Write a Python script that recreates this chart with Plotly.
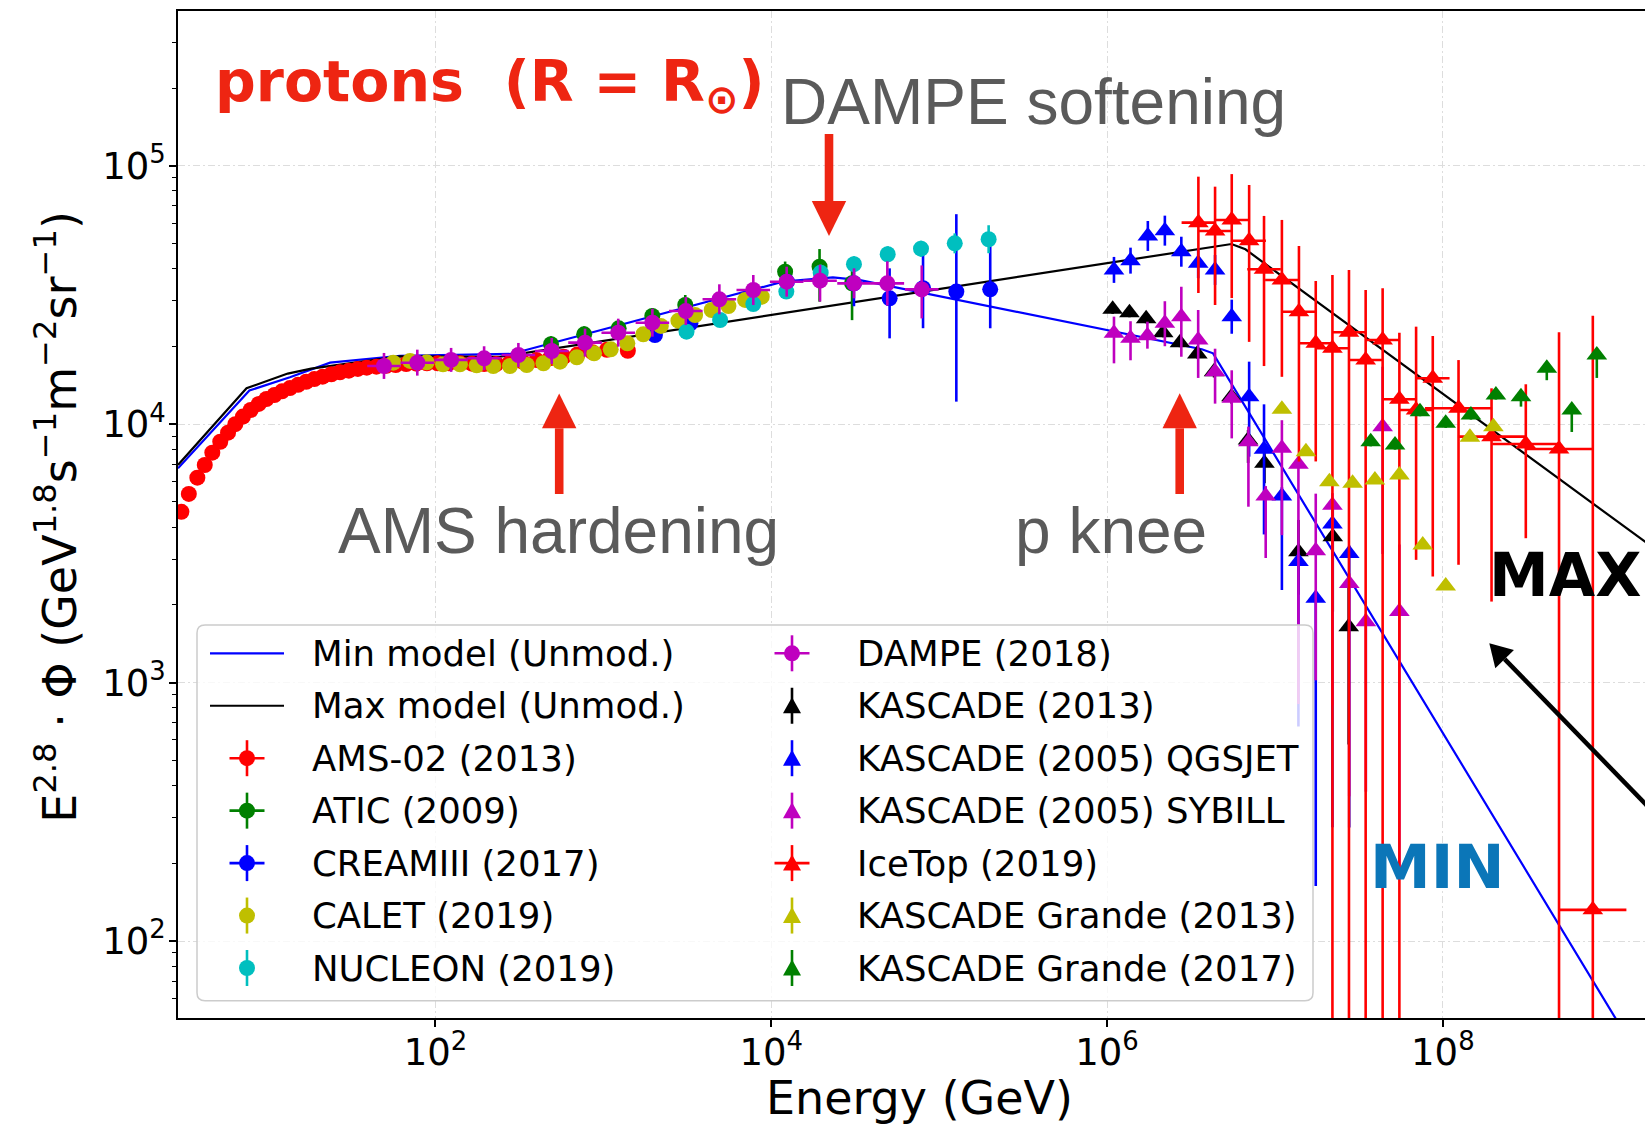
import plotly.graph_objects as go

# ---------------- data (energy in GeV, E^2.8 * flux) ----------------
min_model_E = [2.93, 7.8, 13.6, 23.6, 61.5, 282, 11750, 23300, 33800, 3.67e6, 4.28e6, 1.07e9, 2.0e9]
min_model_F = [6750, 13500, 15200, 17300, 18400, 18700, 35600, 37000, 36100, 19500, 18800, 50.2, 25.6]

max_model_E = [2.93, 7.5, 13.2, 18.2, 61.5, 243, 5.51e6, 6.67e6, 1.6e9, 3.0e9]
max_model_F = [6950, 13770, 15700, 16400, 18300, 18240, 49800, 47500, 3510, 2600]

ams_E = [3.07, 3.40, 3.82, 4.23, 4.69, 5.23, 5.82, 6.43, 7.14, 7.94, 8.87, 9.85, 11.0, 12.2, 13.6,
         15.2, 17.0, 19.0, 21.3, 24.0, 27.0, 30.5, 34.5, 39.0, 44.5, 51.0, 58.0, 67.0, 77.0, 89.0,
         103, 120, 140, 165, 195, 230, 275, 330, 400, 480, 580, 700, 860, 1050, 1400]
ams_F = [4580, 5370, 6210, 6950, 7760, 8550, 9270, 10000, 10700, 11350, 11980, 12520, 12970, 13400, 13800,
         14200, 14600, 14950, 15270, 15600, 15890, 16110, 16360, 16550, 16690, 16830, 16940, 17100, 17150, 17200,
         17200, 17200, 17200, 17150, 17100, 17100, 17200, 17460, 17700, 17990, 18240, 18620, 19000, 19400, 19240]

atic_E = [488, 769, 1234, 1958, 3076, 12100, 19400, 30300]
atic_F = [20400, 22280, 23500, 26220, 28930, 38900, 40700, 35100]
atic_lo = [0.069, 0.069, 0.069, 0.069, 0.085, 0.090, 0.268, 0.28]
atic_hi = [0.074, 0.074, 0.074, 0.074, 0.093, 0.095, 0.17, 0.123]

cream_E = [2030, 3300, 12400, 31100, 50700, 80200, 126600, 201500]
cream_F = [22130, 24580, 35600, 35100, 30700, 33600, 32600, 33250]
cream_lo = [0.044, 0.044, 0.069, 0.185, 0.300, 0.300, 0.625, 0.293]
cream_hi = [0.046, 0.046, 0.074, 0.123, 0.306, 0.448, 0.993, 0.467]

calet_E = [56.1, 70.6, 88.7, 111, 140, 176, 221, 278, 350, 440, 552, 695, 881, 1107, 1390, 1730,
           2200, 2800, 3520, 4420, 5560, 6990, 8780]
calet_F = [17300, 17570, 17360, 17060, 17060, 16900, 16800, 16800, 16950, 17210, 17460, 18160, 18800,
           19480, 20560, 22280, 24000, 25150, 26460, 27670, 28670, 30270, 31140]
calet_rel = [0.04, 0.04, 0.04, 0.04, 0.04, 0.04, 0.04, 0.04, 0.04, 0.04, 0.04, 0.04, 0.04, 0.04, 0.04, 0.04,
             0.05, 0.05, 0.05, 0.05, 0.06, 0.06, 0.06]

nucleon_E = [3130, 4960, 7820, 12300, 19700, 31100, 49400, 78000, 123900, 197200]
nucleon_F = [22800, 25300, 29170, 32600, 38580, 41600, 45450, 47760, 50100, 51960]
nucleon_lo = [0.044, 0.044, 0.044, 0.044, 0.069, 0.069, 0.069, 0.069, 0.085, 0.117]
nucleon_hi = [0.046, 0.046, 0.046, 0.046, 0.074, 0.074, 0.074, 0.074, 0.093, 0.133]

dampe_E = [49.4, 78.0, 124, 195, 312, 493, 778, 1227, 1960, 3100, 4910, 7820, 12360, 19530, 31130, 49150, 78800]
dampe_F = [16800, 17300, 17730, 17990, 18530, 19200, 20680, 22600, 24700, 27400, 30430, 33060, 35600,
           35920, 35080, 35080, 33240]
dampe_lo = [0.109, 0.109, 0.101, 0.101, 0.101, 0.109, 0.117, 0.117, 0.117, 0.117, 0.125, 0.125, 0.125,
            0.170, 0.125, 0.180, 0.228]
dampe_hi = [0.123, 0.123, 0.113, 0.113, 0.113, 0.123, 0.133, 0.133, 0.133, 0.133, 0.143, 0.143, 0.143,
            0.153, 0.143, 0.217, 0.238]
dampe_dlogE = [0.1] * 17  # half bin width in decades

kas13_E = [1.08e6, 1.36e6, 1.71e6, 2.16e6, 2.72e6, 3.45e6, 4.34e6, 5.51e6, 6.92e6, 8.66e6, 1.38e7, 2.21e7, 2.75e7]
kas13_F = [27850, 27010, 25590, 22590, 20680, 18700, 15960, 12780, 8690, 7060, 3210, 3670, 1646]
kas13_lo = [0.04, 0.04, 0.04, 0.04, 0.04, 0.04, 0.05, 0.06, 0.185, 0.163, 0.318, 0.487, 0.650]
kas13_hi = [0.045, 0.045, 0.045, 0.045, 0.045, 0.045, 0.05, 0.06, 0.093, 0.113, 0.327, 0.34, 0.561]

kasq_E = [1.10e6, 1.38e6, 1.75e6, 2.21e6, 2.77e6, 3.49e6, 4.40e6, 5.53e6, 7.02e6, 8.61e6, 1.10e7, 1.38e7,
          1.75e7, 2.20e7, 2.77e7]
kasq_F = [39530, 42930, 53500, 56100, 46500, 41950, 39530, 26060, 12780, 8000, 5270, 2940, 2120, 4110, 3160]
kasq_lo = [0.109, 0.109, 0.125, 0.125, 0.125, 0.125, 0.125, 0.141, 0.414, 0.532, 0.567, 0.770, 0.923, 0.933, 0.913]
kasq_hi = [0.123, 0.123, 0.143, 0.143, 0.143, 0.143, 0.143, 0.164, 0.366, 0.492, 0.083, 0.093, 0.045, 0.074, 0.074]

kass_E = [1.10e6, 1.38e6, 1.74e6, 2.21e6, 2.77e6, 3.49e6, 4.40e6, 5.53e6, 6.95e6, 8.81e6, 1.10e7, 1.38e7,
          1.75e7, 2.20e7, 2.77e7, 3.48e7, 4.38e7, 5.51e7]
kass_F = [22480, 21500, 22000, 24580, 26060, 21180, 15970, 12590, 8560, 5270, 8070, 7000, 3240, 4860, 2420,
          1720, 9770, 1883]
kass_lo = [0.235, 0.178, 0.109, 0.185, 0.300, 0.287, 0.248, 0.300, 0.440, 0.424, 0.539, 0.882, 0.685, 0.832,
           0.850, 0.780, 0.678, 0.901]
kass_hi = [0.160, 0.164, 0.133, 0.217, 0.306, 0.306, 0.227, 0.284, 0.143, 0.093, 0.284, 0.055, 0.662, 0.113,
           0.093, 0.074, 0.708, 0.816]

icetop_E = [3.50e6, 4.40e6, 5.53e6, 7.02e6, 8.61e6, 1.10e7, 1.39e7, 1.75e7, 2.20e7, 2.76e7, 3.47e7, 4.38e7,
            5.51e7, 6.93e7, 8.71e7, 1.24e8, 1.95e8, 3.12e8, 4.92e8, 7.82e8]
icetop_F = [60260, 55940, 61660, 51290, 39780, 36140, 27250, 20560, 19670, 22690, 17720, 21180, 12490, 11350,
            15050, 11520, 8950, 8380, 8020, 132]
icetop_lo = [0.466, 0.483, 0.501, 0.594, 0.578, 0.578, 0.737, 0.651, 0.999, 0.999, 0.999, 0.999, 0.999, 0.737,
             0.829, 0.752, 0.770, 0.568, 0.999, 0.999]
icetop_hi = [0.506, 0.484, 0.506, 0.643, 0.608, 0.708, 0.796, 0.742, 0.921, 0.742, 0.866, 0.585, 0.810, 1.101,
             0.458, 0.537, 0.538, 0.703, 1.828, 198]
icetop_dlogE = [0.1, 0.1, 0.1, 0.1, 0.1, 0.1, 0.1, 0.1, 0.1, 0.1, 0.1, 0.1, 0.1, 0.1, 0.1,
                0.2, 0.2, 0.2, 0.2, 0.2]

kg13_E = [1.10e7, 1.53e7, 2.11e7, 2.90e7, 3.94e7, 5.51e7, 7.59e7, 1.04e8, 1.45e8, 2.00e8]
kg13_F = [11420, 7830, 5990, 5905, 6080, 6360, 3410, 2365, 8900, 9770]

kg17_E = [3.72e7, 5.19e7, 7.31e7, 1.04e8, 1.47e8, 2.07e8, 2.92e8, 4.16e8, 5.86e8, 8.26e8]
kg17_F = [8550, 8300, 11180, 10080, 10850, 12970, 12780, 16460, 11350, 18530]
kg17_lo = [0.04, 0.04, 0.04, 0.04, 0.04, 0.04, 0.085, 0.101, 0.178, 0.185]
kg17_hi = [0.04, 0.04, 0.04, 0.04, 0.04, 0.04, 0.04, 0.04, 0.04, 0.04]

x_tick_vals = [1e2, 1e4, 1e6, 1e8]
x_tick_text = ['10<sup>2</sup>', '10<sup>4</sup>', '10<sup>6</sup>', '10<sup>8</sup>']
y_tick_vals = [1e2, 1e3, 1e4, 1e5]
y_tick_text = ['10<sup>2</sup>', '10<sup>3</sup>', '10<sup>4</sup>', '10<sup>5</sup>']

# ---------------- styling ----------------
RED, GRN, BLU, YEL, CYA, MAG, BLK = '#ff0000', '#008000', '#0000ff', '#bfbf00', '#00bfbf', '#bf00bf', '#000000'
ARROW_RED = '#ee2512'
GRAY_TXT = '#5a5a5a'
FONT = 'DejaVu Sans'
ELW = 2.6

# plot area in page pixels
L, T, W, H = 178, 11, 1467, 1007


def px(x):
    return (x - L) / W


def py(y):
    return (T + H - y) / H


def rel_err(vals, lo, hi, color):
    return dict(type='data', symmetric=False,
                array=[v * h for v, h in zip(vals, hi)],
                arrayminus=[v * l for v, l in zip(vals, lo)],
                color=color, thickness=ELW, width=0)


def dec_err(vals, dec, color):
    return dict(type='data', symmetric=False,
                array=[v * (10 ** d - 1) for v, d in zip(vals, dec)],
                arrayminus=[v * (1 - 10 ** (-d)) for v, d in zip(vals, dec)],
                color=color, thickness=ELW, width=0)


fig = go.Figure()

# legend description: (column, name, kind, color, has_xerr, has_yerr)
legend_items = []


def add_line(E, F, color, name, col):
    fig.add_trace(go.Scatter(x=E, y=F, mode='lines', name=name, showlegend=False,
                             line=dict(color=color, width=2.2)))
    legend_items.append((col, name, 'line', color, False, False))


def add_pts(E, F, color, symbol, name, col, ey=None, ex=None, lx=False, ly=True):
    fig.add_trace(go.Scatter(
        x=E, y=F, mode='markers', name=name, showlegend=False,
        marker=dict(color=color, symbol=symbol, size=16 if symbol == 'circle' else 18, line=dict(width=0)),
        error_y=ey, error_x=ex))
    legend_items.append((col, name, 'circle' if symbol == 'circle' else 'tri', color, lx, ly))


add_line(min_model_E, min_model_F, BLU, 'Min model (Unmod.)', 0)
add_line(max_model_E, max_model_F, BLK, 'Max model (Unmod.)', 0)
add_pts(ams_E, ams_F, RED, 'circle', 'AMS-02 (2013)', 0, lx=True)
add_pts(atic_E, atic_F, GRN, 'circle', 'ATIC (2009)', 0, ey=rel_err(atic_F, atic_lo, atic_hi, GRN), lx=True)
add_pts(cream_E, cream_F, BLU, 'circle', 'CREAMIII (2017)', 0, ey=rel_err(cream_F, cream_lo, cream_hi, BLU), lx=True)
add_pts(calet_E, calet_F, YEL, 'circle', 'CALET (2019)', 0, ey=rel_err(calet_F, calet_rel, calet_rel, YEL))
add_pts(nucleon_E, nucleon_F, CYA, 'circle', 'NUCLEON (2019)', 0,
        ey=rel_err(nucleon_F, nucleon_lo, nucleon_hi, CYA))
add_pts(dampe_E, dampe_F, MAG, 'circle', 'DAMPE (2018)', 1,
        ey=rel_err(dampe_F, dampe_lo, dampe_hi, MAG), ex=dec_err(dampe_E, dampe_dlogE, MAG), lx=True)
add_pts(kas13_E, kas13_F, BLK, 'triangle-up', 'KASCADE (2013)', 1, ey=rel_err(kas13_F, kas13_lo, kas13_hi, BLK))
add_pts(kasq_E, kasq_F, BLU, 'triangle-up', 'KASCADE (2005) QGSJET', 1, ey=rel_err(kasq_F, kasq_lo, kasq_hi, BLU))
add_pts(kass_E, kass_F, MAG, 'triangle-up', 'KASCADE (2005) SYBILL', 1, ey=rel_err(kass_F, kass_lo, kass_hi, MAG))
add_pts(icetop_E, icetop_F, RED, 'triangle-up', 'IceTop (2019)', 1,
        ey=rel_err(icetop_F, icetop_lo, icetop_hi, RED), ex=dec_err(icetop_E, icetop_dlogE, RED), lx=True)
add_pts(kg13_E, kg13_F, YEL, 'triangle-up', 'KASCADE Grande (2013)', 1)
add_pts(kg17_E, kg17_F, GRN, 'triangle-up', 'KASCADE Grande (2017)', 1, ey=rel_err(kg17_F, kg17_lo, kg17_hi, GRN))

shapes = []
annotations = []

# ---- legend box (drawn manually to mimic the two-column frame) ----
fx0, fx1, fy0, fy1 = px(197), px(1313), py(1000.7), py(625)
rx, ry = 8 / W, 8 / H
frame_path = (f"M{fx0+rx},{fy1} L{fx1-rx},{fy1} Q{fx1},{fy1} {fx1},{fy1-ry} L{fx1},{fy0+ry} "
              f"Q{fx1},{fy0} {fx1-rx},{fy0} L{fx0+rx},{fy0} Q{fx0},{fy0} {fx0},{fy0+ry} "
              f"L{fx0},{fy1-ry} Q{fx0},{fy1} {fx0+rx},{fy1} Z")
shapes.append(dict(type='path', path=frame_path, xref='paper', yref='paper', layer='above',
                   fillcolor='rgba(255,255,255,0.8)', line=dict(color='#cccccc', width=1.5)))

col_cx = [247, 792]
col_tx = [310, 855]
row0, drow = 653.3, 52.45
rows = [0, 0]
for col, name, kind, color, lx, ly in legend_items:
    r = rows[col]
    rows[col] += 1
    cx, cy = col_cx[col], row0 + drow * r
    if kind == 'line':
        shapes.append(dict(type='line', xref='paper', yref='paper', layer='above',
                           x0=px(cx - 37), x1=px(cx + 37), y0=py(cy), y1=py(cy),
                           line=dict(color=color, width=2.2)))
    else:
        if ly:
            shapes.append(dict(type='line', xref='paper', yref='paper', layer='above',
                               x0=px(cx), x1=px(cx), y0=py(cy - 18), y1=py(cy + 18),
                               line=dict(color=color, width=ELW)))
        if lx:
            shapes.append(dict(type='line', xref='paper', yref='paper', layer='above',
                               x0=px(cx - 17.5), x1=px(cx + 17.5), y0=py(cy), y1=py(cy),
                               line=dict(color=color, width=ELW)))
        if kind == 'circle':
            shapes.append(dict(type='circle', xref='paper', yref='paper', layer='above',
                               x0=px(cx - 8), x1=px(cx + 8), y0=py(cy + 8), y1=py(cy - 8),
                               fillcolor=color, line=dict(width=0)))
        else:
            tri = (f"M{px(cx)},{py(cy - 8.5)} L{px(cx - 9)},{py(cy + 7.5)} "
                   f"L{px(cx + 9)},{py(cy + 7.5)} Z")
            shapes.append(dict(type='path', path=tri, xref='paper', yref='paper', layer='above',
                               fillcolor=color, line=dict(width=0)))
    annotations.append(dict(text=name, x=px(col_tx[col]), y=py(cy), xref='paper', yref='paper',
                            xanchor='left', yanchor='middle', showarrow=False,
                            font=dict(family=FONT, size=35.5, color='black')))


# ---- red arrows ----
def red_arrow(cx, tail_y, base_y, tip_y, hw=17.2, sw=8.6):
    shapes.append(dict(type='rect', xref='paper', yref='paper', layer='above',
                       x0=px(cx - sw / 2), x1=px(cx + sw / 2), y0=py(tail_y), y1=py(base_y),
                       fillcolor=ARROW_RED, line=dict(width=0)))
    path = f"M{px(cx - hw)},{py(base_y)} L{px(cx + hw)},{py(base_y)} L{px(cx)},{py(tip_y)} Z"
    shapes.append(dict(type='path', path=path, xref='paper', yref='paper', layer='above',
                       fillcolor=ARROW_RED, line=dict(width=0)))


red_arrow(829, 134, 201, 236)        # DAMPE softening (down)
red_arrow(559.2, 494, 428.3, 393.5)  # AMS hardening (up)
red_arrow(1179.7, 494, 428.3, 393.3)  # p knee (up)

# ---- black arrow towards MAX/MIN ----
tip = (1489.3, 643.3)
ux, uy = 0.697, 0.717
base = (tip[0] + 22 * ux, tip[1] + 22 * uy)
tail = (tip[0] + 320 * ux, tip[1] + 320 * uy)
shapes.append(dict(type='line', xref='paper', yref='paper', layer='above',
                   x0=px(tail[0]), y0=py(tail[1]), x1=px(base[0]), y1=py(base[1]),
                   line=dict(color='black', width=4.5)))
c1 = (base[0] - 13 * uy, base[1] + 13 * ux)
c2 = (base[0] + 13 * uy, base[1] - 13 * ux)
shapes.append(dict(type='path', xref='paper', yref='paper', layer='above',
                   path=f"M{px(tip[0])},{py(tip[1])} L{px(c1[0])},{py(c1[1])} L{px(c2[0])},{py(c2[1])} Z",
                   fillcolor='black', line=dict(width=0)))

# ---- text annotations ----
annotations += [
    dict(text='<b>protons\u00a0\u00a0(R = R<sub>⊙</sub>)</b>', x=px(213), y=py(46), xref='paper', yref='paper',
         xanchor='left', yanchor='top', showarrow=False,
         font=dict(family=FONT, size=57, color=ARROW_RED)),
    dict(text='DAMPE softening', x=px(1033), y=py(101.6), xref='paper', yref='paper',
         xanchor='center', yanchor='middle', showarrow=False,
         font=dict(family='Liberation Sans', size=64, color=GRAY_TXT)),
    dict(text='AMS hardening', x=px(558), y=py(530.7), xref='paper', yref='paper',
         xanchor='center', yanchor='middle', showarrow=False,
         font=dict(family='Liberation Sans', size=64, color=GRAY_TXT)),
    dict(text='p knee', x=px(1110.5), y=py(530.7), xref='paper', yref='paper',
         xanchor='center', yanchor='middle', showarrow=False,
         font=dict(family='Liberation Sans', size=64, color=GRAY_TXT)),
    dict(text='<b>MAX</b>', x=px(1487), y=py(574.7), xref='paper', yref='paper',
         xanchor='left', yanchor='middle', showarrow=False,
         font=dict(family=FONT, size=60, color='black')),
    dict(text='<b>MIN</b>', x=px(1437), y=py(866.4), xref='paper', yref='paper',
         xanchor='center', yanchor='middle', showarrow=False,
         font=dict(family=FONT, size=61, color='#0b76b8')),
    dict(text='Energy (GeV)', x=px(919), y=py(1097.5), xref='paper', yref='paper',
         xanchor='center', yanchor='middle', showarrow=False,
         font=dict(family=FONT, size=46, color='black')),
    dict(text='E<sup>2.8</sup> · Φ (GeV<sup>1.8</sup>s<sup>−1</sup>m<sup>−2</sup>sr<sup>−1</sup>)',
         x=px(56), y=py(516.7), xref='paper', yref='paper', textangle=-90,
         xanchor='center', yanchor='middle', showarrow=False,
         font=dict(family=FONT, size=46, color='black')),
]

minor_y = [m * 10 ** e for e in range(1, 6) for m in range(2, 10) if 50 <= m * 10 ** e <= 4e5]

fig.update_layout(
    width=1645, height=1128,
    margin=dict(l=L, r=0, t=T, b=1128 - T - H, pad=0),
    paper_bgcolor='white', plot_bgcolor='white',
    showlegend=False,
    shapes=shapes, annotations=annotations,
    font=dict(family=FONT, color='black'),
)
fig.update_xaxes(
    type='log', range=[0.4669, 9.204],
    tickvals=x_tick_vals, ticktext=x_tick_text,
    ticks='outside', ticklen=7, tickwidth=1.5, tickcolor='black',
    tickfont=dict(family=FONT, size=37, color='black'),
    ticklabelstandoff=-6,
    showline=True, linecolor='black', linewidth=1.5, mirror=True,
    showgrid=True, gridcolor='#dddddd', gridwidth=1.4, griddash='7px,3px,2px,3px',
    zeroline=False,
)
fig.update_yaxes(
    type='log', range=[1.702, 5.599],
    tickvals=y_tick_vals, ticktext=y_tick_text,
    ticks='outside', ticklen=7, tickwidth=1.5, tickcolor='black',
    tickfont=dict(family=FONT, size=37, color='black'),
    ticklabelstandoff=-4,
    minor=dict(tickvals=minor_y, ticks='outside', ticklen=4, tickwidth=1.2, tickcolor='black', showgrid=False),
    showline=True, linecolor='black', linewidth=1.5, mirror=False,
    showgrid=True, gridcolor='#dddddd', gridwidth=1.4, griddash='7px,3px,2px,3px',
    zeroline=False,
)

fig.write_html('out.html')
